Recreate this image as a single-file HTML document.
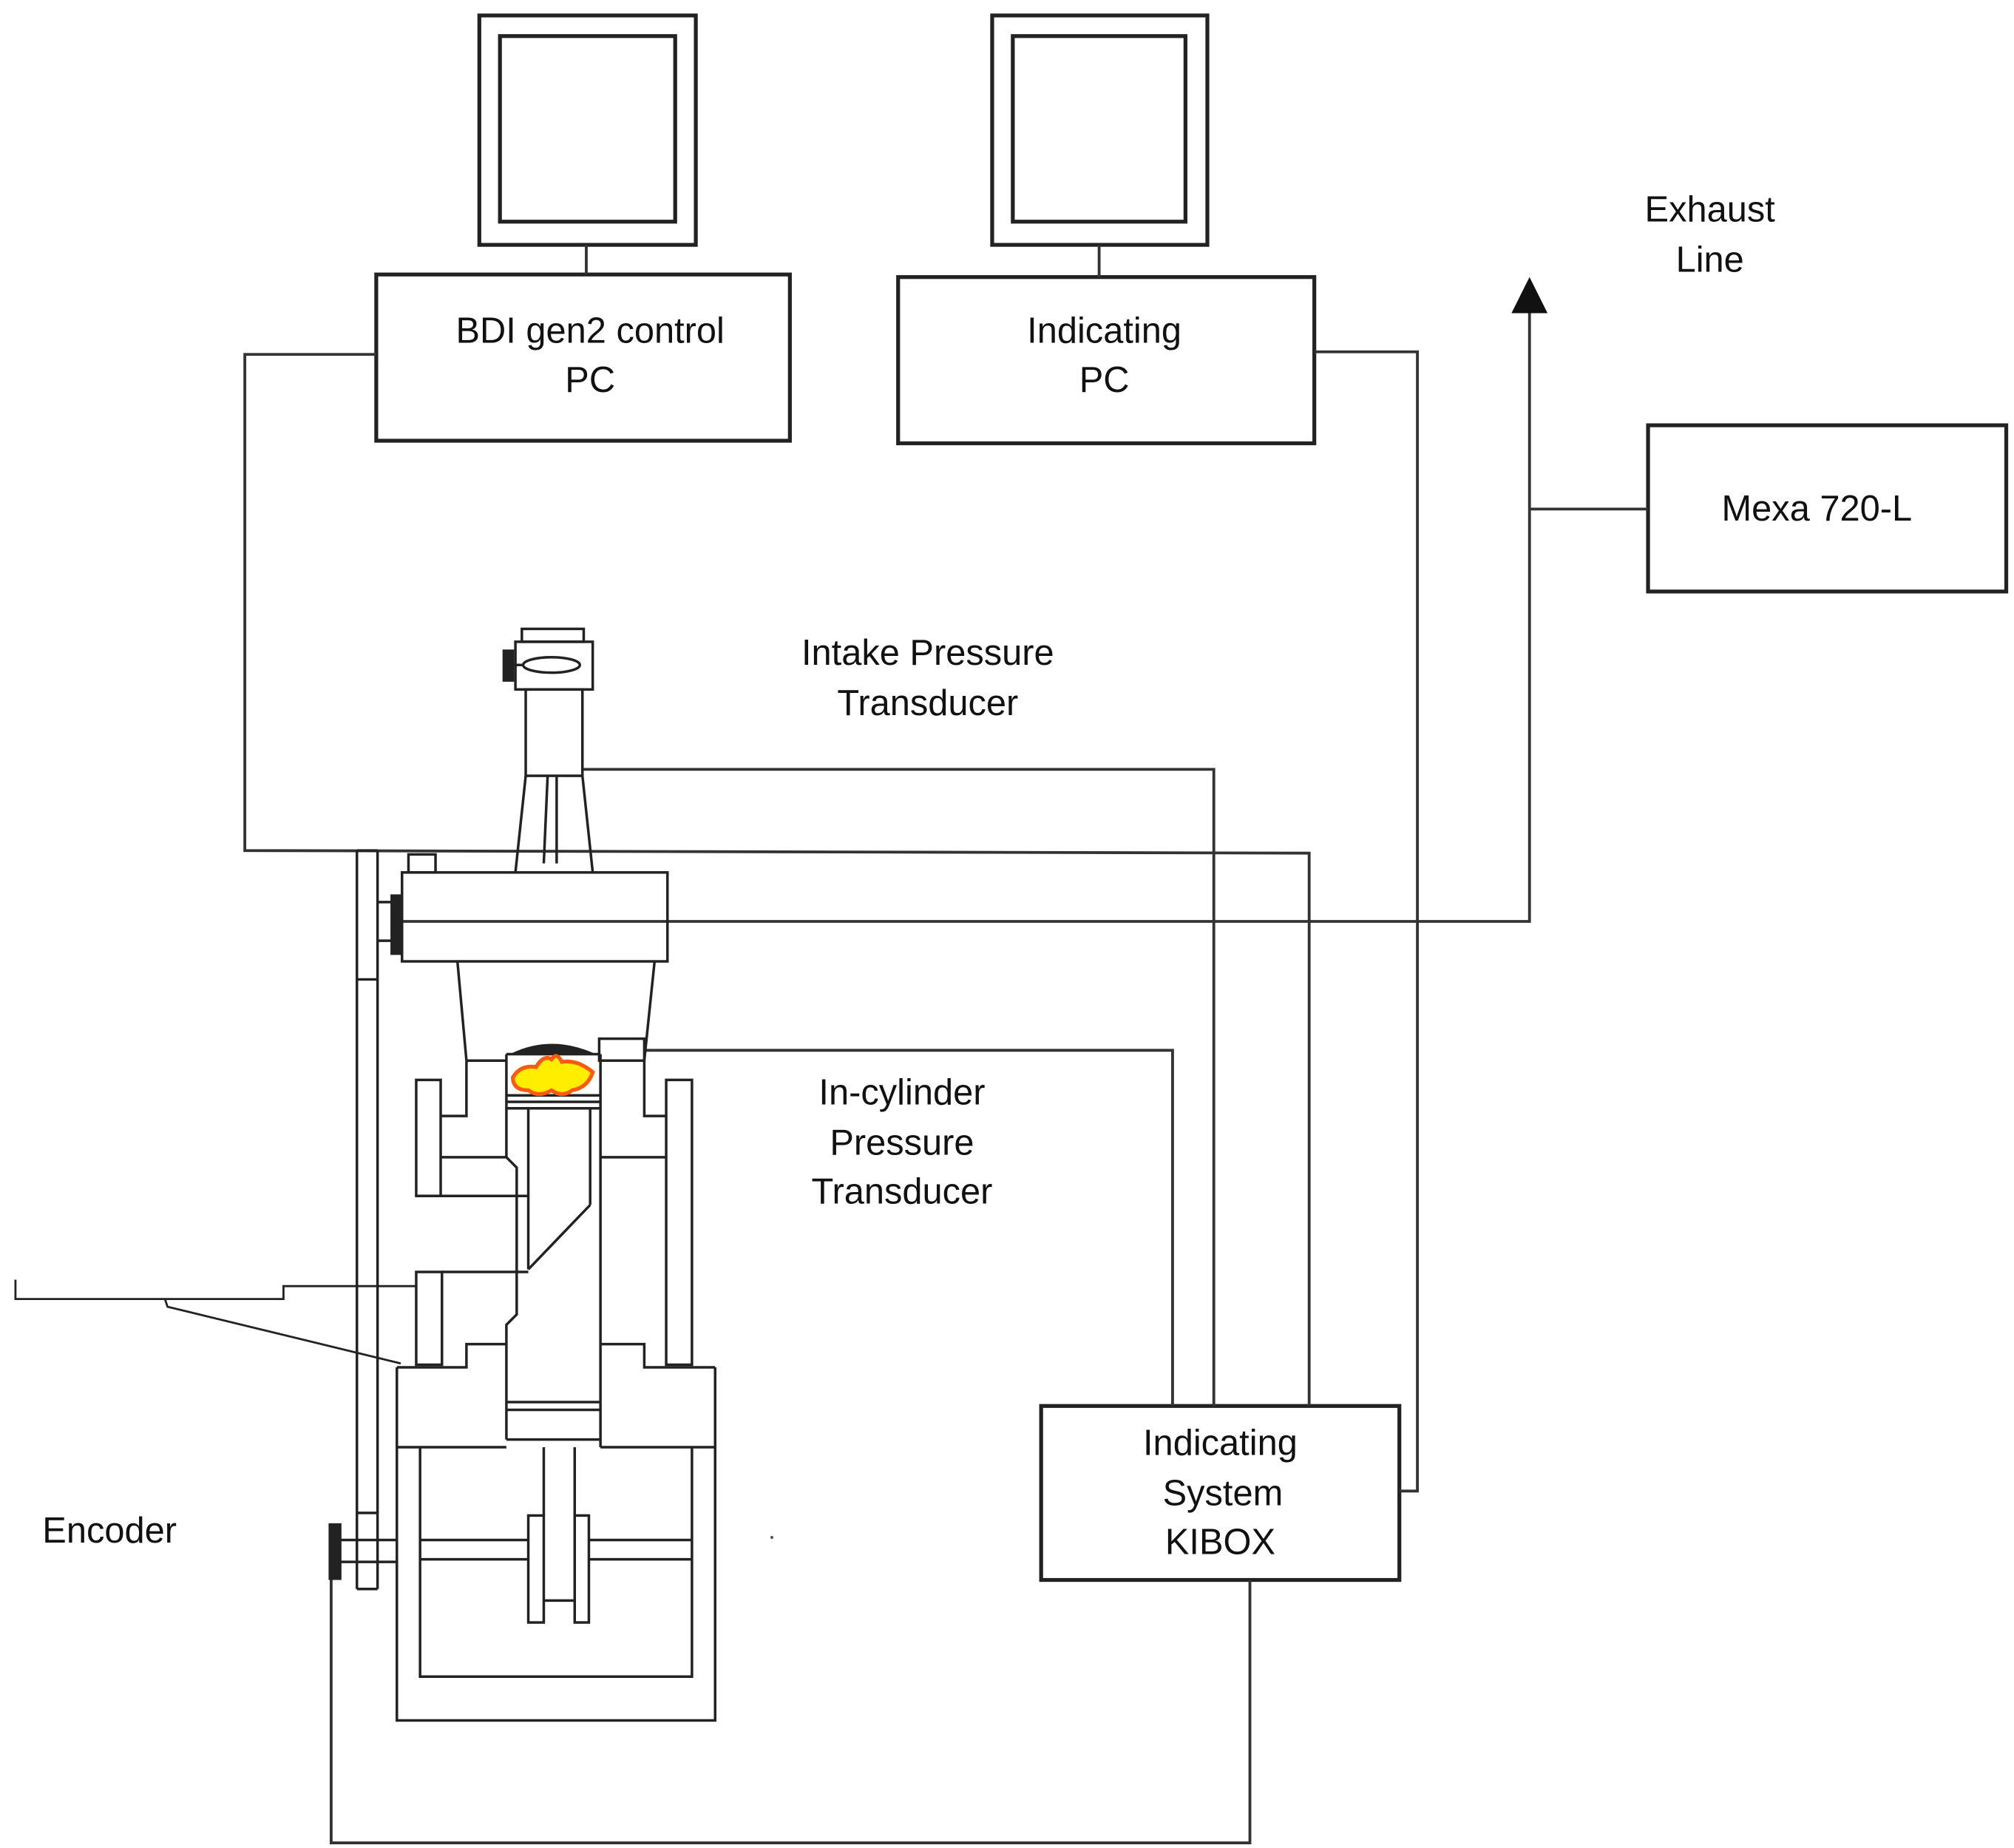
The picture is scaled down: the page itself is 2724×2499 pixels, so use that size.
<!DOCTYPE html>
<html><head><meta charset="utf-8"><style>
html,body{margin:0;padding:0;background:#fff;}
svg{display:block;}
text{font-family:"Liberation Sans",sans-serif;font-size:28px;fill:#111;text-anchor:middle;}
</style></head><body>
<svg width="2724" height="2499" viewBox="0 0 1563 1434" preserveAspectRatio="none" xmlns="http://www.w3.org/2000/svg">
<rect width="1563" height="1434" fill="#fff"/>
<g fill="none" stroke="#222" stroke-width="3">
<rect x="372" y="12" width="168" height="178"/>
<rect x="388" y="28" width="136" height="144"/>
<rect x="770" y="12" width="167" height="178"/>
<rect x="786" y="28" width="134" height="144"/>
<rect x="292" y="213" width="321" height="129"/>
<rect x="697" y="215" width="323" height="129"/>
<rect x="1279" y="330" width="278" height="129"/>
<rect x="808" y="1091" width="278" height="135"/>
</g>
<g fill="none" stroke="#333" stroke-width="2.2">
<line x1="455" y1="190" x2="455" y2="213"/>
<line x1="853" y1="190" x2="853" y2="215"/>
<polyline points="292,275 190,275 190,660 1016,662 1016,1091"/>
<polyline points="1020,273 1100,273 1100,1157 1086,1157"/>
<polyline points="452,597 942,597 942,1091"/>
<polyline points="500,815 910,815 910,1091"/>
<polyline points="310,715 1187,715 1187,240"/>
<line x1="1187" y1="395" x2="1279" y2="395"/>
<polyline points="970,1226 970,1430 257,1430 257,1225"/>
</g>
<polygon points="1187,215 1173,243 1201,243" fill="#111"/>
<g fill="none" stroke="#222" stroke-width="2">
<rect x="405" y="488" width="48" height="10"/>
<rect x="400" y="498" width="60" height="37"/>
<rect x="391" y="505" width="7" height="23" fill="#222"/>
<ellipse cx="428" cy="516" rx="22" ry="6"/>
<line x1="398" y1="516" x2="406" y2="516"/>
<rect x="408" y="535" width="44" height="67"/>
<line x1="408" y1="602" x2="400" y2="677"/>
<line x1="452" y1="602" x2="460" y2="677"/>
<line x1="425" y1="602" x2="422" y2="670"/>
<line x1="432" y1="602" x2="432" y2="670"/>
<rect x="317" y="663" width="21" height="14"/>
<rect x="312" y="677" width="206" height="69"/>
<rect x="304" y="695" width="6" height="45" fill="#222"/>
<line x1="293" y1="700" x2="304" y2="700"/>
<line x1="293" y1="730" x2="304" y2="730"/>
<line x1="277" y1="660" x2="277" y2="1233"/>
<line x1="293" y1="660" x2="293" y2="1233"/>
<line x1="277" y1="660" x2="293" y2="660"/>
<line x1="277" y1="760" x2="293" y2="760"/>
<line x1="277" y1="1174" x2="293" y2="1174"/>
<line x1="277" y1="1233" x2="293" y2="1233"/>
<line x1="355" y1="746" x2="362" y2="823"/>
<line x1="508" y1="746" x2="500" y2="823"/>
<line x1="362" y1="823" x2="393" y2="823"/>
<rect x="465" y="806" width="35" height="17"/>
<path d="M398,818 Q428,804 460,818" fill="#222"/>
<line x1="393" y1="818" x2="466" y2="818"/>
<rect x="323" y="838" width="19" height="90"/>
<polyline points="362,823 362,866 342,866"/>
<line x1="342" y1="898" x2="393" y2="898"/>
<line x1="323" y1="928" x2="410" y2="928"/>
<rect x="517" y="838" width="20" height="221"/>
<polyline points="500,823 500,866 517,866"/>
<line x1="466" y1="898" x2="517" y2="898"/>
<polyline points="393,818 393,898 401,906 401,1020 393,1028 393,1117"/>
<line x1="466" y1="818" x2="466" y2="1123"/>
<line x1="393" y1="850" x2="466" y2="850"/>
<line x1="393" y1="855" x2="466" y2="855"/>
<line x1="393" y1="860" x2="466" y2="860"/>
<line x1="410" y1="860" x2="410" y2="985"/>
<line x1="458" y1="860" x2="458" y2="935"/>
<line x1="458" y1="935" x2="410" y2="985"/>
<line x1="393" y1="1088" x2="466" y2="1088"/>
<line x1="393" y1="1094" x2="466" y2="1094"/>
<line x1="393" y1="1117" x2="466" y2="1117"/>
<rect x="323" y="987" width="20" height="72"/>
<line x1="343" y1="987" x2="410" y2="987"/>
<polyline points="308,1061 362,1061 362,1043 393,1043"/>
<polyline points="466,1043 500,1043 500,1061 555,1061"/>
<polyline points="308,1061 308,1335 555,1335 555,1061"/>
<line x1="308" y1="1123" x2="393" y2="1123"/>
<line x1="466" y1="1123" x2="555" y2="1123"/>
<polyline points="326,1123 326,1301 537,1301 537,1123"/>
<line x1="422" y1="1123" x2="422" y2="1176"/>
<line x1="446" y1="1123" x2="446" y2="1176"/>
<line x1="422" y1="1242" x2="446" y2="1242"/>
<rect x="410" y="1176" width="12" height="83"/>
<rect x="446" y="1176" width="11" height="83"/>
<line x1="326" y1="1195" x2="410" y2="1195"/>
<line x1="326" y1="1210" x2="410" y2="1210"/>
<line x1="457" y1="1195" x2="537" y2="1195"/>
<line x1="457" y1="1210" x2="537" y2="1210"/>
<rect x="256" y="1183" width="8" height="42" fill="#222"/>
<line x1="264" y1="1195" x2="308" y2="1195"/>
<line x1="264" y1="1212" x2="308" y2="1212"/>
<polyline points="12,993 12,1008 220,1008 220,998 323,998" stroke-width="1.6"/>
<polyline points="128,1008 130,1014 311,1058" stroke-width="1.6"/>
</g>
<path d="M398,836 Q404,826 416,828 Q422,818 428,822 Q432,816 436,824 Q448,822 460,832 Q456,844 444,846 Q436,852 428,846 Q418,852 410,846 Q398,846 398,836 Z" fill="#ffee00" stroke="#ff5a10" stroke-width="3"/>
<text x="458" y="266">BDI gen2 control</text>
<text x="458" y="304">PC</text>
<text x="857" y="266">Indicating</text>
<text x="857" y="304">PC</text>
<text x="1327" y="172">Exhaust</text>
<text x="1327" y="211">Line</text>
<text x="1410" y="404">Mexa 720-L</text>
<text x="720" y="516">Intake Pressure</text>
<text x="720" y="555">Transducer</text>
<text x="700" y="857">In-cylinder</text>
<text x="700" y="896">Pressure</text>
<text x="700" y="934">Transducer</text>
<text x="947" y="1129">Indicating</text>
<text x="949" y="1168">System</text>
<text x="947" y="1206">KIBOX</text>
<text x="85" y="1197">Encoder</text>
<circle cx="599" cy="1193" r="1.2" fill="#555"/>
</svg>
</body></html>
